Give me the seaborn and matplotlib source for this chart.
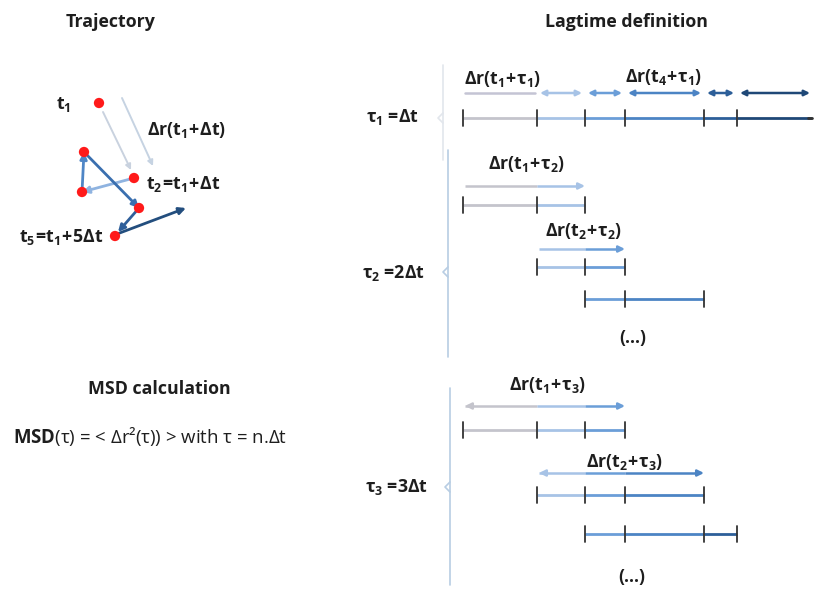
import matplotlib
matplotlib.use("Agg")
import matplotlib.pyplot as plt
import seaborn as sns
import pandas as pd
from matplotlib.patches import FancyArrowPatch

sns.set_theme(style="white")
plt.rcParams["font.family"] = ["Open Sans", "DejaVu Sans"]
plt.rcParams["mathtext.fontset"] = "custom"
plt.rcParams["mathtext.rm"] = "Open Sans"
plt.rcParams["mathtext.bf"] = "Open Sans:bold"
plt.rcParams["mathtext.it"] = "Open Sans"
plt.rcParams["text.color"] = "#1e1e1e"

# ---------------- data ----------------
# trajectory positions (x, y) of the particle
traj_x = [99, 134, 82, 84, 139, 115]
traj_y = [103, 178, 192, 152, 208, 236]
# step arrows of the trajectory (from index -> to index) and their colours
step_from = [2, 3, 4]
step_to = [3, 4, 5]
step_colors = ["#8fb3e0", "#4f86c6", "#3a6faf"]

# time points on the lag-time axes
t_ticks = [463, 537, 585, 625, 704, 737, 812]
seg_colors = ["#c4c4cc", "#a7c3e6", "#6b9ed8", "#4c84c4", "#2d5f99", "#1f4877"]

lag_labels = [r"$\mathbf{\tau_1}$ =Δt", r"$\mathbf{\tau_2}$ =2Δt", r"$\mathbf{\tau_3}$ =3Δt"]

# per lag: rows of (first tick index, last tick index, label)
rows_tau2 = [(0, 2, r"$\mathbf{\Delta r(t_1\!+\!\tau_2)}$"),
             (1, 3, r"$\mathbf{\Delta r(t_2\!+\!\tau_2)}$"),
             (2, 4, None)]
rows_tau3 = [(0, 3, r"$\mathbf{\Delta r(t_1\!+\!\tau_3)}$"),
             (1, 4, r"$\mathbf{\Delta r(t_2\!+\!\tau_3)}$"),
             (2, 5, None)]

fig = plt.figure(figsize=(8.14, 5.90), dpi=100)
ax = fig.add_axes([0, 0, 1, 1])

FS = 12.8


def arrow(x0, y0, x1, y1, color, style="-|>", lw=1.6, ms=7):
    ax.add_patch(FancyArrowPatch((x0, y0), (x1, y1), arrowstyle=style,
                                 mutation_scale=ms, color=color, lw=lw,
                                 shrinkA=0, shrinkB=0))


def timeline(i0, i1, y, tick_last=True):
    for k in range(i0, i1):
        ax.plot([t_ticks[k], t_ticks[k + 1]], [y, y], color=seg_colors[k], lw=2, solid_capstyle="butt")
    last = i1 + 1 if tick_last else i1
    for k in range(i0, last):
        ax.plot([t_ticks[k], t_ticks[k]], [y - 8, y + 8], color="#333333", lw=1.3)


def grad_arrow(i0, i1, y, left_head=False):
    for k in range(i0, i1):
        x0 = t_ticks[k] + (2 if k == i0 else 0)
        x1 = t_ticks[k + 1] - (6 if k == i1 - 1 else 0)
        ax.plot([x0, x1], [y, y], color=seg_colors[k], lw=1.8, solid_capstyle="butt")
    arrow(t_ticks[i1] - 8, y, t_ticks[i1], y, seg_colors[i1 - 1], lw=1.8, ms=9)
    if left_head:
        arrow(t_ticks[i0] + 10, y, t_ticks[i0] + 2, y, seg_colors[i0], lw=1.8, ms=9)


def brace(x, y0, y1, ym, color="#b8cde3"):
    ax.plot([x, x], [y0, y1], color=color, lw=1.2)
    ax.plot([x, x - 5, x], [ym - 5, ym, ym + 5], color=color, lw=1.2)


# ---------------- titles ----------------
ax.text(111, 22, "Trajectory", ha="center", va="center", fontsize=FS, fontweight="bold")
ax.text(626, 22, "Lagtime definition", ha="center", va="center", fontsize=FS, fontweight="bold")
ax.text(159, 389, "MSD calculation", ha="center", va="center", fontsize=FS, fontweight="bold")
ax.text(13, 437, r"$\mathbf{MSD}$(τ) = < Δr²(τ)) > with τ = n.Δt", ha="left", va="center",
        fontsize=13.4)

# ---------------- trajectory ----------------
arrow(103, 112, 131, 170, "#c9d2df", lw=1.4, ms=8)
arrow(122, 98, 153, 166, "#c6d3e2", lw=1.4, ms=8)
for f, t, c in zip(step_from, step_to, step_colors):
    xa, ya = traj_x[f - 1], traj_y[f - 1]
    xb, yb = traj_x[t - 1], traj_y[t - 1]
    arrow(xa, ya, xb, yb, c, lw=2, ms=10)
arrow(traj_x[4], traj_y[4], traj_x[5] + 3, traj_y[5] - 4, "#2f5f9a", lw=2, ms=10)
arrow(traj_x[5] + 2, traj_y[5] - 2, 186, 208, "#234e7e", lw=2, ms=10)
pts = pd.DataFrame({"x": traj_x, "y": traj_y})
sns.scatterplot(data=pts, x="x", y="y", ax=ax, color="#ff1a1a", s=55, edgecolor="none", zorder=5)
ax.set_xlim(0, 814)
ax.set_ylim(590, 0)
ax.axis("off")

ax.text(56, 104, r"$\mathbf{t_1}$", ha="left", va="center", fontsize=FS)
ax.text(147, 130, r"$\mathbf{\Delta r(t_1\!+\!\Delta t)}$", ha="left", va="center", fontsize=FS)
ax.text(146, 184, r"$\mathbf{t_2\!=\!t_1\!+\!\Delta t}$", ha="left", va="center", fontsize=FS)
ax.text(19, 237, r"$\mathbf{t_5\!=\!t_1\!+\!5\Delta t}$", ha="left", va="center", fontsize=FS)

# ---------------- tau 1 ----------------
brace(443, 65, 160, 118, color="#e2e6ec")
ax.text(392, 117, lag_labels[0], ha="center", va="center", fontsize=FS, fontweight="bold")
timeline(0, 6, 118, tick_last=False)
ax.plot([t_ticks[6] - 4, t_ticks[6]], [118, 118], color="#333333", lw=2)
ax.plot([t_ticks[0] + 2, t_ticks[1] - 2], [93, 93], color="#c4c4d4", lw=1.8)
for k in range(1, 6):
    end = t_ticks[k + 1] - 3 if k < 5 else 810
    arrow(t_ticks[k] + 3, 93, end, 93, seg_colors[k], style="<|-|>", lw=1.8, ms=8)
ax.text(503, 79, r"$\mathbf{\Delta r(t_1\!+\!\tau_1)}$", ha="center", va="center", fontsize=FS)
ax.text(664, 77, r"$\mathbf{\Delta r(t_4\!+\!\tau_1)}$", ha="center", va="center", fontsize=FS)

# ---------------- tau 2 ----------------
brace(448, 150, 357, 272)
ax.text(393, 273, lag_labels[1], ha="center", va="center", fontsize=FS, fontweight="bold")
for (i0, i1, lab), ya, yl, yt in zip(rows_tau2, [186, 249, None], [205, 267, 299], [164, 231, None]):
    if ya is not None:
        grad_arrow(i0, i1, ya)
    timeline(i0, i1, yl)
    if lab:
        ax.text((t_ticks[i0] + t_ticks[i1]) / 2 + 3, yt, lab, ha="center", va="center", fontsize=FS)
ax.text(633, 338, "(...)", ha="center", va="center", fontsize=FS, fontweight="bold")

# ---------------- tau 3 ----------------
brace(450, 388, 585, 487)
ax.text(397, 487, lag_labels[2], ha="center", va="center", fontsize=FS, fontweight="bold")
for (i0, i1, lab), ya, yl, yt in zip(rows_tau3, [406, 473, None], [430, 495, 534], [385, 462, None]):
    if ya is not None:
        grad_arrow(i0, i1, ya, left_head=True)
    timeline(i0, i1, yl)
    if lab:
        ax.text((t_ticks[i0] + t_ticks[i1]) / 2 + 4, yt, lab, ha="center", va="center", fontsize=FS)
ax.text(632, 577, "(...)", ha="center", va="center", fontsize=FS, fontweight="bold")

fig.savefig("out.png", dpi=100)
